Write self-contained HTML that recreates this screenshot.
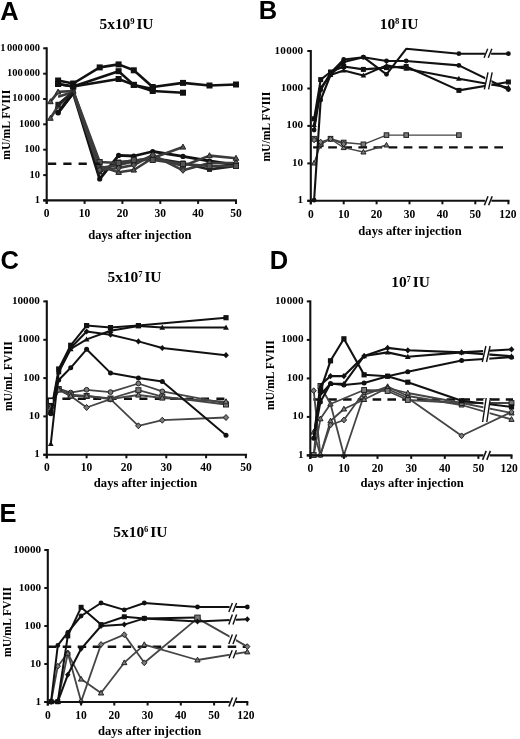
<!DOCTYPE html>
<html><head><meta charset="utf-8"><style>
html,body{margin:0;padding:0;background:#fff;width:520px;height:739px;overflow:hidden}
svg{display:block;will-change:transform}
</style></head><body>
<svg width="520" height="739" viewBox="0 0 520 739">
<rect width="520" height="739" fill="#fff"/>
<path d="M58.1,112.7 L73.2,93.0 L99.7,179.0 L118.6,155.4 L133.8,156.0 L152.7,151.5 L183.0,156.4 L209.5,161.0 L236.0,165.0" fill="none" stroke="#111" stroke-width="2.8" stroke-linejoin="round"/>
<circle cx="58.1" cy="112.7" r="2.6" fill="#111"/>
<circle cx="73.2" cy="93.0" r="2.6" fill="#111"/>
<circle cx="99.7" cy="179.0" r="2.6" fill="#111"/>
<circle cx="118.6" cy="155.4" r="2.6" fill="#111"/>
<circle cx="133.8" cy="156.0" r="2.6" fill="#111"/>
<circle cx="152.7" cy="151.5" r="2.6" fill="#111"/>
<circle cx="183.0" cy="156.4" r="2.6" fill="#111"/>
<circle cx="209.5" cy="161.0" r="2.6" fill="#111"/>
<circle cx="236.0" cy="165.0" r="2.6" fill="#111"/>
<path d="M58.1,104.4 L73.2,92.0 L99.7,172.0 L118.6,162.0 L133.8,161.0 L152.7,158.0 L183.0,163.0 L209.5,169.4 L236.0,166.0" fill="none" stroke="#222" stroke-width="2.6" stroke-linejoin="round"/>
<rect x="55.6" y="101.9" width="5.0" height="5.0" fill="#222"/>
<rect x="70.7" y="89.5" width="5.0" height="5.0" fill="#222"/>
<rect x="97.2" y="169.5" width="5.0" height="5.0" fill="#222"/>
<rect x="116.1" y="159.5" width="5.0" height="5.0" fill="#222"/>
<rect x="131.3" y="158.5" width="5.0" height="5.0" fill="#222"/>
<rect x="150.2" y="155.5" width="5.0" height="5.0" fill="#222"/>
<rect x="180.5" y="160.5" width="5.0" height="5.0" fill="#222"/>
<rect x="207.0" y="166.9" width="5.0" height="5.0" fill="#222"/>
<rect x="233.5" y="163.5" width="5.0" height="5.0" fill="#222"/>
<path d="M50.5,101.6 L58.1,91.9 L73.2,91.0 L99.7,166.0 L118.6,172.3 L133.8,170.0 L152.7,158.0 L183.0,147.0" fill="none" stroke="#3c3c3c" stroke-width="2.6" stroke-linejoin="round"/>
<polygon points="50.5,98.7 53.2,103.7 47.7,103.7" fill="#555" stroke="#222" stroke-width="1"/>
<polygon points="58.1,89.0 60.8,94.0 55.3,94.0" fill="#555" stroke="#222" stroke-width="1"/>
<polygon points="73.2,88.1 76.0,93.1 70.5,93.1" fill="#555" stroke="#222" stroke-width="1"/>
<polygon points="99.7,163.1 102.5,168.1 97.0,168.1" fill="#555" stroke="#222" stroke-width="1"/>
<polygon points="118.6,169.4 121.4,174.4 115.9,174.4" fill="#555" stroke="#222" stroke-width="1"/>
<polygon points="133.8,167.1 136.5,172.1 131.0,172.1" fill="#555" stroke="#222" stroke-width="1"/>
<polygon points="152.7,155.1 155.5,160.1 150.0,160.1" fill="#555" stroke="#222" stroke-width="1"/>
<polygon points="183.0,144.1 185.7,149.1 180.2,149.1" fill="#555" stroke="#222" stroke-width="1"/>
<path d="M50.5,118.2 L58.1,106.0 L73.2,92.0 L99.7,168.0 L118.6,165.0 L133.8,161.5 L152.7,157.0 L183.0,166.0 L209.5,155.6 L236.0,158.2" fill="none" stroke="#3c3c3c" stroke-width="2.6" stroke-linejoin="round"/>
<polygon points="50.5,115.3 53.2,120.3 47.7,120.3" fill="#555" stroke="#222" stroke-width="1"/>
<polygon points="58.1,103.1 60.8,108.1 55.3,108.1" fill="#555" stroke="#222" stroke-width="1"/>
<polygon points="73.2,89.1 76.0,94.1 70.5,94.1" fill="#555" stroke="#222" stroke-width="1"/>
<polygon points="99.7,165.1 102.5,170.1 97.0,170.1" fill="#555" stroke="#222" stroke-width="1"/>
<polygon points="118.6,162.1 121.4,167.1 115.9,167.1" fill="#555" stroke="#222" stroke-width="1"/>
<polygon points="133.8,158.6 136.5,163.6 131.0,163.6" fill="#555" stroke="#222" stroke-width="1"/>
<polygon points="152.7,154.1 155.5,159.1 150.0,159.1" fill="#555" stroke="#222" stroke-width="1"/>
<polygon points="183.0,163.1 185.7,168.1 180.2,168.1" fill="#555" stroke="#222" stroke-width="1"/>
<polygon points="209.5,152.7 212.2,157.7 206.7,157.7" fill="#555" stroke="#222" stroke-width="1"/>
<polygon points="236.0,155.3 238.8,160.3 233.2,160.3" fill="#555" stroke="#222" stroke-width="1"/>
<path d="M58.1,96.8 L73.2,92.0 L99.7,170.0 L118.6,168.0 L133.8,165.0 L152.7,155.0 L183.0,170.3 L209.5,163.0 L236.0,163.0" fill="none" stroke="#3c3c3c" stroke-width="2.6" stroke-linejoin="round"/>
<polygon points="99.7,167.0 102.5,170.0 99.7,173.0 97.0,170.0" fill="#555" stroke="#222" stroke-width="1"/>
<polygon points="118.6,165.0 121.4,168.0 118.6,171.0 115.9,168.0" fill="#555" stroke="#222" stroke-width="1"/>
<polygon points="133.8,162.0 136.5,165.0 133.8,168.0 131.0,165.0" fill="#555" stroke="#222" stroke-width="1"/>
<polygon points="152.7,152.0 155.5,155.0 152.7,158.0 150.0,155.0" fill="#555" stroke="#222" stroke-width="1"/>
<polygon points="183.0,167.3 185.7,170.3 183.0,173.3 180.2,170.3" fill="#555" stroke="#222" stroke-width="1"/>
<polygon points="209.5,160.0 212.2,163.0 209.5,166.0 206.7,163.0" fill="#555" stroke="#222" stroke-width="1"/>
<polygon points="236.0,160.0 238.8,163.0 236.0,166.0 233.2,163.0" fill="#555" stroke="#222" stroke-width="1"/>
<path d="M73.2,91.0 L99.7,162.0 L118.6,163.0 L133.8,160.0 L152.7,160.0 L183.0,164.0 L209.5,166.0 L236.0,166.0" fill="none" stroke="#3c3c3c" stroke-width="2.6" stroke-linejoin="round"/>
<rect x="97.2" y="159.5" width="5.0" height="5.0" fill="#555" stroke="#222" stroke-width="1"/>
<rect x="116.1" y="160.5" width="5.0" height="5.0" fill="#555" stroke="#222" stroke-width="1"/>
<rect x="131.3" y="157.5" width="5.0" height="5.0" fill="#555" stroke="#222" stroke-width="1"/>
<rect x="150.2" y="157.5" width="5.0" height="5.0" fill="#555" stroke="#222" stroke-width="1"/>
<rect x="180.5" y="161.5" width="5.0" height="5.0" fill="#555" stroke="#222" stroke-width="1"/>
<rect x="207.0" y="163.5" width="5.0" height="5.0" fill="#555" stroke="#222" stroke-width="1"/>
<rect x="233.5" y="163.5" width="5.0" height="5.0" fill="#555" stroke="#222" stroke-width="1"/>
<path d="M58.1,112.7 L73.2,93.0" fill="none" stroke="#111" stroke-width="3" stroke-linejoin="round"/>
<circle cx="58.1" cy="112.7" r="2.6" fill="#111"/>
<path d="M58.1,104.4 L73.2,92.0" fill="none" stroke="#222" stroke-width="2.6" stroke-linejoin="round"/>
<rect x="55.6" y="101.9" width="5.0" height="5.0" fill="#222"/>
<path d="M58.1,80.5 L73.2,83.5 L99.7,67.4 L118.6,64.4 L133.8,70.3 L152.7,87.0 L183.0,82.9 L209.5,85.5 L236.0,84.5" fill="none" stroke="#111" stroke-width="2.6" stroke-linejoin="round"/>
<rect x="55.1" y="77.5" width="6.0" height="6.0" fill="#111"/>
<rect x="70.2" y="80.5" width="6.0" height="6.0" fill="#111"/>
<rect x="96.7" y="64.4" width="6.0" height="6.0" fill="#111"/>
<rect x="115.6" y="61.4" width="6.0" height="6.0" fill="#111"/>
<rect x="130.8" y="67.3" width="6.0" height="6.0" fill="#111"/>
<rect x="149.7" y="84.0" width="6.0" height="6.0" fill="#111"/>
<rect x="180.0" y="79.9" width="6.0" height="6.0" fill="#111"/>
<rect x="206.5" y="82.5" width="6.0" height="6.0" fill="#111"/>
<rect x="233.0" y="81.5" width="6.0" height="6.0" fill="#111"/>
<path d="M58.1,84.0 L73.2,86.5 L118.6,71.2 L133.8,84.9 L152.7,91.0 L183.0,92.7" fill="none" stroke="#111" stroke-width="2.6" stroke-linejoin="round"/>
<rect x="55.1" y="81.0" width="6.0" height="6.0" fill="#111"/>
<rect x="70.2" y="83.5" width="6.0" height="6.0" fill="#111"/>
<rect x="115.6" y="68.2" width="6.0" height="6.0" fill="#111"/>
<rect x="130.8" y="81.9" width="6.0" height="6.0" fill="#111"/>
<rect x="149.7" y="88.0" width="6.0" height="6.0" fill="#111"/>
<rect x="180.0" y="89.7" width="6.0" height="6.0" fill="#111"/>
<path d="M58.1,84.0 L73.2,86.5 L118.6,79.0 L133.8,84.9 L152.7,89.0" fill="none" stroke="#111" stroke-width="2.6" stroke-linejoin="round"/>
<rect x="55.1" y="81.0" width="6.0" height="6.0" fill="#111"/>
<rect x="70.2" y="83.5" width="6.0" height="6.0" fill="#111"/>
<rect x="115.6" y="76.0" width="6.0" height="6.0" fill="#111"/>
<rect x="130.8" y="81.9" width="6.0" height="6.0" fill="#111"/>
<rect x="149.7" y="86.0" width="6.0" height="6.0" fill="#111"/>
<line x1="48.0" y1="163.8" x2="100.0" y2="163.8" stroke="#111" stroke-width="2.4" stroke-dasharray="8.2 7.1"/>
<line x1="313.1" y1="147.4" x2="503.0" y2="147.4" stroke="#111" stroke-width="2.4" stroke-dasharray="8.7 6.4"/>
<path d="M314.1,138.7 L320.7,144.3 L330.5,138.7 L343.7,142.5 L363.4,144.3 L386.5,135.1 L406.2,135.1 L458.9,135.1" fill="none" stroke="#454545" stroke-width="1.4" stroke-linejoin="round"/>
<rect x="311.8" y="136.4" width="4.6" height="4.6" fill="#7a7a7a" stroke="#222" stroke-width="1"/>
<rect x="318.4" y="142.0" width="4.6" height="4.6" fill="#7a7a7a" stroke="#222" stroke-width="1"/>
<rect x="328.2" y="136.4" width="4.6" height="4.6" fill="#7a7a7a" stroke="#222" stroke-width="1"/>
<rect x="341.4" y="140.2" width="4.6" height="4.6" fill="#7a7a7a" stroke="#222" stroke-width="1"/>
<rect x="361.1" y="142.0" width="4.6" height="4.6" fill="#7a7a7a" stroke="#222" stroke-width="1"/>
<rect x="384.2" y="132.8" width="4.6" height="4.6" fill="#7a7a7a" stroke="#222" stroke-width="1"/>
<rect x="403.9" y="132.8" width="4.6" height="4.6" fill="#7a7a7a" stroke="#222" stroke-width="1"/>
<rect x="456.6" y="132.8" width="4.6" height="4.6" fill="#7a7a7a" stroke="#222" stroke-width="1"/>
<path d="M314.1,163.0 L320.7,144.0 L330.5,139.0 L343.7,147.6 L363.4,152.0 L386.5,145.0" fill="none" stroke="#454545" stroke-width="1.4" stroke-linejoin="round"/>
<polygon points="314.1,160.4 316.6,165.0 311.6,165.0" fill="#7a7a7a" stroke="#222" stroke-width="1"/>
<polygon points="320.7,141.4 323.2,146.0 318.1,146.0" fill="#7a7a7a" stroke="#222" stroke-width="1"/>
<polygon points="330.5,136.4 333.1,141.0 328.0,141.0" fill="#7a7a7a" stroke="#222" stroke-width="1"/>
<polygon points="343.7,145.0 346.2,149.6 341.2,149.6" fill="#7a7a7a" stroke="#222" stroke-width="1"/>
<polygon points="363.4,149.4 366.0,154.0 360.9,154.0" fill="#7a7a7a" stroke="#222" stroke-width="1"/>
<polygon points="386.5,142.4 389.0,147.0 383.9,147.0" fill="#7a7a7a" stroke="#222" stroke-width="1"/>
<path d="M314.1,140.0 L320.7,142.0 L330.5,139.0 L343.7,144.0" fill="none" stroke="#454545" stroke-width="1.4" stroke-linejoin="round"/>
<polygon points="314.1,137.2 316.6,140.0 314.1,142.8 311.6,140.0" fill="#7a7a7a" stroke="#222" stroke-width="1"/>
<polygon points="320.7,139.2 323.2,142.0 320.7,144.8 318.1,142.0" fill="#7a7a7a" stroke="#222" stroke-width="1"/>
<polygon points="330.5,136.2 333.1,139.0 330.5,141.8 328.0,139.0" fill="#7a7a7a" stroke="#222" stroke-width="1"/>
<polygon points="343.7,141.2 346.2,144.0 343.7,146.8 341.2,144.0" fill="#7a7a7a" stroke="#222" stroke-width="1"/>
<path d="M314.1,200.2 L320.7,100.0 L330.5,75.0 L343.7,62.0 L363.4,57.2 L386.5,74.3 L406.2,48.8 L458.9,53.7 L508.4,53.7" fill="none" stroke="#111" stroke-width="2.1" stroke-linejoin="round"/>
<circle cx="314.1" cy="200.2" r="2.4" fill="#111"/>
<circle cx="320.7" cy="100.0" r="2.4" fill="#111"/>
<circle cx="330.5" cy="75.0" r="2.4" fill="#111"/>
<circle cx="343.7" cy="62.0" r="2.4" fill="#111"/>
<circle cx="363.4" cy="57.2" r="2.4" fill="#111"/>
<circle cx="386.5" cy="74.3" r="2.4" fill="#111"/>
<circle cx="458.9" cy="53.7" r="2.4" fill="#111"/>
<circle cx="508.4" cy="53.7" r="2.4" fill="#111"/>
<path d="M314.1,130.0 L320.7,90.0 L330.5,73.0 L343.7,59.5 L363.4,57.2 L386.5,61.0 L406.2,61.0 L458.9,65.4 L508.4,89.5" fill="none" stroke="#111" stroke-width="2.1" stroke-linejoin="round"/>
<circle cx="314.1" cy="130.0" r="2.4" fill="#111"/>
<circle cx="320.7" cy="90.0" r="2.4" fill="#111"/>
<circle cx="330.5" cy="73.0" r="2.4" fill="#111"/>
<circle cx="343.7" cy="59.5" r="2.4" fill="#111"/>
<circle cx="363.4" cy="57.2" r="2.4" fill="#111"/>
<circle cx="386.5" cy="61.0" r="2.4" fill="#111"/>
<circle cx="406.2" cy="61.0" r="2.4" fill="#111"/>
<circle cx="458.9" cy="65.4" r="2.4" fill="#111"/>
<circle cx="508.4" cy="89.5" r="2.4" fill="#111"/>
<path d="M314.1,125.0 L320.7,88.0 L330.5,75.0 L343.7,70.5 L363.4,75.4 L386.5,65.4 L406.2,68.7 L458.9,78.7 L508.4,87.5" fill="none" stroke="#111" stroke-width="2.1" stroke-linejoin="round"/>
<polygon points="314.1,122.1 316.8,127.1 311.3,127.1" fill="#111"/>
<polygon points="320.7,85.1 323.4,90.1 317.9,90.1" fill="#111"/>
<polygon points="330.5,72.1 333.3,77.1 327.8,77.1" fill="#111"/>
<polygon points="343.7,67.6 346.4,72.6 340.9,72.6" fill="#111"/>
<polygon points="363.4,72.5 366.2,77.5 360.7,77.5" fill="#111"/>
<polygon points="386.5,62.5 389.2,67.5 383.7,67.5" fill="#111"/>
<polygon points="406.2,65.8 409.0,70.8 403.5,70.8" fill="#111"/>
<polygon points="458.9,75.8 461.6,80.8 456.1,80.8" fill="#111"/>
<polygon points="508.4,84.6 511.1,89.6 505.6,89.6" fill="#111"/>
<path d="M314.1,118.8 L320.7,79.6 L330.5,72.0 L343.7,66.5 L363.4,69.4 L386.5,67.6 L406.2,66.5 L458.9,90.4 L508.4,82.0" fill="none" stroke="#111" stroke-width="2.1" stroke-linejoin="round"/>
<rect x="311.6" y="116.3" width="5.0" height="5.0" fill="#111"/>
<rect x="318.2" y="77.1" width="5.0" height="5.0" fill="#111"/>
<rect x="328.0" y="69.5" width="5.0" height="5.0" fill="#111"/>
<rect x="341.2" y="64.0" width="5.0" height="5.0" fill="#111"/>
<rect x="360.9" y="66.9" width="5.0" height="5.0" fill="#111"/>
<rect x="384.0" y="65.1" width="5.0" height="5.0" fill="#111"/>
<rect x="403.7" y="64.0" width="5.0" height="5.0" fill="#111"/>
<rect x="456.4" y="87.9" width="5.0" height="5.0" fill="#111"/>
<rect x="505.9" y="79.5" width="5.0" height="5.0" fill="#111"/>
<rect x="484.9" y="49.5" width="6.2" height="7.4" fill="#fff"/>
<line x1="484.1" y1="57.7" x2="487.7" y2="48.7" stroke="#111" stroke-width="1.4"/>
<line x1="488.3" y1="57.7" x2="491.9" y2="48.7" stroke="#111" stroke-width="1.4"/>
<rect x="485.2" y="73.1" width="6.2" height="15.4" fill="#fff"/>
<line x1="484.4" y1="89.3" x2="488.0" y2="72.3" stroke="#111" stroke-width="1.4"/>
<line x1="488.6" y1="89.3" x2="492.2" y2="72.3" stroke="#111" stroke-width="1.4"/>
<line x1="47.0" y1="398.7" x2="226.0" y2="398.7" stroke="#111" stroke-width="2.4" stroke-dasharray="8 7.4"/>
<path d="M50.8,404.5 L58.7,388.7 L70.7,392.6 L86.6,389.8 L110.5,392.1 L138.4,383.5 L162.3,391.4 L226.0,403.3" fill="none" stroke="#454545" stroke-width="1.8" stroke-linejoin="round"/>
<circle cx="50.8" cy="404.5" r="2.4" fill="#7a7a7a" stroke="#222" stroke-width="1"/>
<circle cx="58.7" cy="388.7" r="2.4" fill="#7a7a7a" stroke="#222" stroke-width="1"/>
<circle cx="70.7" cy="392.6" r="2.4" fill="#7a7a7a" stroke="#222" stroke-width="1"/>
<circle cx="86.6" cy="389.8" r="2.4" fill="#7a7a7a" stroke="#222" stroke-width="1"/>
<circle cx="110.5" cy="392.1" r="2.4" fill="#7a7a7a" stroke="#222" stroke-width="1"/>
<circle cx="138.4" cy="383.5" r="2.4" fill="#7a7a7a" stroke="#222" stroke-width="1"/>
<circle cx="162.3" cy="391.4" r="2.4" fill="#7a7a7a" stroke="#222" stroke-width="1"/>
<circle cx="226.0" cy="403.3" r="2.4" fill="#7a7a7a" stroke="#222" stroke-width="1"/>
<path d="M50.8,405.0 L58.7,389.0 L70.7,394.6 L86.6,396.0 L110.5,398.5 L138.4,390.2 L162.3,396.6 L226.0,404.5" fill="none" stroke="#454545" stroke-width="1.8" stroke-linejoin="round"/>
<rect x="48.3" y="402.5" width="5.0" height="5.0" fill="#7a7a7a" stroke="#222" stroke-width="1"/>
<rect x="56.2" y="386.5" width="5.0" height="5.0" fill="#7a7a7a" stroke="#222" stroke-width="1"/>
<rect x="68.2" y="392.1" width="5.0" height="5.0" fill="#7a7a7a" stroke="#222" stroke-width="1"/>
<rect x="84.1" y="393.5" width="5.0" height="5.0" fill="#7a7a7a" stroke="#222" stroke-width="1"/>
<rect x="108.0" y="396.0" width="5.0" height="5.0" fill="#7a7a7a" stroke="#222" stroke-width="1"/>
<rect x="135.9" y="387.7" width="5.0" height="5.0" fill="#7a7a7a" stroke="#222" stroke-width="1"/>
<rect x="159.8" y="394.1" width="5.0" height="5.0" fill="#7a7a7a" stroke="#222" stroke-width="1"/>
<rect x="223.5" y="402.0" width="5.0" height="5.0" fill="#7a7a7a" stroke="#222" stroke-width="1"/>
<path d="M50.8,406.0 L58.7,389.5 L70.7,396.0 L86.6,407.5 L110.5,399.2 L138.4,425.8 L162.3,420.2 L226.0,417.5" fill="none" stroke="#454545" stroke-width="1.8" stroke-linejoin="round"/>
<polygon points="50.8,403.0 53.5,406.0 50.8,409.0 48.0,406.0" fill="#7a7a7a" stroke="#222" stroke-width="1"/>
<polygon points="58.7,386.5 61.5,389.5 58.7,392.5 56.0,389.5" fill="#7a7a7a" stroke="#222" stroke-width="1"/>
<polygon points="70.7,393.0 73.4,396.0 70.7,399.0 67.9,396.0" fill="#7a7a7a" stroke="#222" stroke-width="1"/>
<polygon points="86.6,404.5 89.4,407.5 86.6,410.5 83.9,407.5" fill="#7a7a7a" stroke="#222" stroke-width="1"/>
<polygon points="110.5,396.2 113.3,399.2 110.5,402.2 107.8,399.2" fill="#7a7a7a" stroke="#222" stroke-width="1"/>
<polygon points="138.4,422.8 141.1,425.8 138.4,428.8 135.6,425.8" fill="#7a7a7a" stroke="#222" stroke-width="1"/>
<polygon points="162.3,417.2 165.0,420.2 162.3,423.2 159.5,420.2" fill="#7a7a7a" stroke="#222" stroke-width="1"/>
<polygon points="226.0,414.5 228.7,417.5 226.0,420.5 223.2,417.5" fill="#7a7a7a" stroke="#222" stroke-width="1"/>
<path d="M50.8,407.0 L58.7,390.0 L70.7,396.0 L86.6,396.0 L110.5,399.0 L138.4,395.0 L162.3,398.0 L226.0,401.7" fill="none" stroke="#454545" stroke-width="1.8" stroke-linejoin="round"/>
<polygon points="50.8,404.1 53.5,409.1 48.0,409.1" fill="#7a7a7a" stroke="#222" stroke-width="1"/>
<polygon points="58.7,387.1 61.5,392.1 56.0,392.1" fill="#7a7a7a" stroke="#222" stroke-width="1"/>
<polygon points="70.7,393.1 73.4,398.1 67.9,398.1" fill="#7a7a7a" stroke="#222" stroke-width="1"/>
<polygon points="86.6,393.1 89.4,398.1 83.9,398.1" fill="#7a7a7a" stroke="#222" stroke-width="1"/>
<polygon points="110.5,396.1 113.3,401.1 107.8,401.1" fill="#7a7a7a" stroke="#222" stroke-width="1"/>
<polygon points="138.4,392.1 141.1,397.1 135.6,397.1" fill="#7a7a7a" stroke="#222" stroke-width="1"/>
<polygon points="162.3,395.1 165.0,400.1 159.5,400.1" fill="#7a7a7a" stroke="#222" stroke-width="1"/>
<polygon points="226.0,398.8 228.7,403.8 223.2,403.8" fill="#7a7a7a" stroke="#222" stroke-width="1"/>
<path d="M50.8,412.3 L58.7,369.0 L70.7,345.3 L86.6,325.6 L110.5,327.6 L138.4,325.6 L226.0,317.7" fill="none" stroke="#111" stroke-width="2" stroke-linejoin="round"/>
<rect x="48.2" y="409.7" width="5.2" height="5.2" fill="#111"/>
<rect x="56.1" y="366.4" width="5.2" height="5.2" fill="#111"/>
<rect x="68.1" y="342.7" width="5.2" height="5.2" fill="#111"/>
<rect x="84.0" y="323.0" width="5.2" height="5.2" fill="#111"/>
<rect x="107.9" y="325.0" width="5.2" height="5.2" fill="#111"/>
<rect x="135.8" y="323.0" width="5.2" height="5.2" fill="#111"/>
<rect x="223.4" y="315.1" width="5.2" height="5.2" fill="#111"/>
<path d="M50.8,443.9 L58.7,372.0 L70.7,349.0 L86.6,339.4 L110.5,330.8 L138.4,326.0 L162.3,327.6 L226.0,327.6" fill="none" stroke="#111" stroke-width="2" stroke-linejoin="round"/>
<polygon points="50.8,440.9 53.6,446.1 47.9,446.1" fill="#111"/>
<polygon points="58.7,369.0 61.6,374.2 55.9,374.2" fill="#111"/>
<polygon points="70.7,346.0 73.6,351.2 67.8,351.2" fill="#111"/>
<polygon points="86.6,336.4 89.5,341.6 83.8,341.6" fill="#111"/>
<polygon points="110.5,327.8 113.4,333.0 107.7,333.0" fill="#111"/>
<polygon points="138.4,323.0 141.2,328.2 135.5,328.2" fill="#111"/>
<polygon points="162.3,324.6 165.1,329.8 159.4,329.8" fill="#111"/>
<polygon points="226.0,324.6 228.9,329.8 223.1,329.8" fill="#111"/>
<path d="M50.8,413.0 L58.7,372.0 L70.7,348.0 L86.6,331.5 L110.5,334.7 L138.4,341.4 L162.3,348.0 L226.0,355.2" fill="none" stroke="#111" stroke-width="2" stroke-linejoin="round"/>
<polygon points="50.8,409.9 53.6,413.0 50.8,416.1 47.9,413.0" fill="#111"/>
<polygon points="58.7,368.9 61.6,372.0 58.7,375.1 55.9,372.0" fill="#111"/>
<polygon points="70.7,344.9 73.6,348.0 70.7,351.1 67.8,348.0" fill="#111"/>
<polygon points="86.6,328.4 89.5,331.5 86.6,334.6 83.8,331.5" fill="#111"/>
<polygon points="110.5,331.6 113.4,334.7 110.5,337.8 107.7,334.7" fill="#111"/>
<polygon points="138.4,338.3 141.2,341.4 138.4,344.5 135.5,341.4" fill="#111"/>
<polygon points="162.3,344.9 165.1,348.0 162.3,351.1 159.4,348.0" fill="#111"/>
<polygon points="226.0,352.1 228.9,355.2 226.0,358.3 223.1,355.2" fill="#111"/>
<path d="M50.8,413.8 L58.7,380.0 L70.7,367.8 L86.6,349.3 L110.5,372.9 L138.4,378.1 L162.3,381.6 L226.0,435.2" fill="none" stroke="#111" stroke-width="2" stroke-linejoin="round"/>
<circle cx="50.8" cy="413.8" r="2.5" fill="#111"/>
<circle cx="58.7" cy="380.0" r="2.5" fill="#111"/>
<circle cx="70.7" cy="367.8" r="2.5" fill="#111"/>
<circle cx="86.6" cy="349.3" r="2.5" fill="#111"/>
<circle cx="110.5" cy="372.9" r="2.5" fill="#111"/>
<circle cx="138.4" cy="378.1" r="2.5" fill="#111"/>
<circle cx="162.3" cy="381.6" r="2.5" fill="#111"/>
<circle cx="226.0" cy="435.2" r="2.5" fill="#111"/>
<rect x="48.3" y="398.5" width="5.0" height="5.0" fill="#fff" stroke="#111" stroke-width="1.2"/>
<line x1="313.4" y1="399.5" x2="513.0" y2="399.5" stroke="#111" stroke-width="2.4" stroke-dasharray="8.6 6.2"/>
<path d="M313.7,455.0 L320.4,418.8 L330.5,404.0 L343.9,455.0 L364.1,395.0 L387.6,386.6 L407.8,396.0 L461.6,405.0 L511.5,419.4" fill="none" stroke="#454545" stroke-width="1.8" stroke-linejoin="round"/>
<polygon points="313.7,452.2 316.3,457.0 311.0,457.0" fill="#7a7a7a" stroke="#222" stroke-width="1"/>
<polygon points="320.4,416.0 323.0,420.8 317.7,420.8" fill="#7a7a7a" stroke="#222" stroke-width="1"/>
<polygon points="330.5,401.2 333.1,406.0 327.8,406.0" fill="#7a7a7a" stroke="#222" stroke-width="1"/>
<polygon points="343.9,452.2 346.6,457.0 341.3,457.0" fill="#7a7a7a" stroke="#222" stroke-width="1"/>
<polygon points="364.1,392.2 366.7,397.0 361.5,397.0" fill="#7a7a7a" stroke="#222" stroke-width="1"/>
<polygon points="387.6,383.8 390.3,388.6 385.0,388.6" fill="#7a7a7a" stroke="#222" stroke-width="1"/>
<polygon points="407.8,393.2 410.4,398.0 405.2,398.0" fill="#7a7a7a" stroke="#222" stroke-width="1"/>
<polygon points="461.6,402.2 464.2,407.0 459.0,407.0" fill="#7a7a7a" stroke="#222" stroke-width="1"/>
<polygon points="511.5,416.6 514.1,421.4 508.9,421.4" fill="#7a7a7a" stroke="#222" stroke-width="1"/>
<path d="M313.7,432.0 L320.4,455.0 L330.5,421.0 L343.9,409.0 L364.1,399.5 L387.6,388.0 L407.8,393.0 L461.6,403.0 L511.5,413.0" fill="none" stroke="#454545" stroke-width="1.8" stroke-linejoin="round"/>
<polygon points="313.7,429.2 316.3,434.0 311.0,434.0" fill="#7a7a7a" stroke="#222" stroke-width="1"/>
<polygon points="320.4,452.2 323.0,457.0 317.7,457.0" fill="#7a7a7a" stroke="#222" stroke-width="1"/>
<polygon points="330.5,418.2 333.1,423.0 327.8,423.0" fill="#7a7a7a" stroke="#222" stroke-width="1"/>
<polygon points="343.9,406.2 346.6,411.0 341.3,411.0" fill="#7a7a7a" stroke="#222" stroke-width="1"/>
<polygon points="364.1,396.7 366.7,401.5 361.5,401.5" fill="#7a7a7a" stroke="#222" stroke-width="1"/>
<polygon points="387.6,385.2 390.3,390.0 385.0,390.0" fill="#7a7a7a" stroke="#222" stroke-width="1"/>
<polygon points="407.8,390.2 410.4,395.0 405.2,395.0" fill="#7a7a7a" stroke="#222" stroke-width="1"/>
<polygon points="461.6,400.2 464.2,405.0 459.0,405.0" fill="#7a7a7a" stroke="#222" stroke-width="1"/>
<polygon points="511.5,410.2 514.1,415.0 508.9,415.0" fill="#7a7a7a" stroke="#222" stroke-width="1"/>
<path d="M313.7,390.7 L320.4,455.0 L330.5,425.0 L343.9,420.0 L364.1,392.0 L387.6,389.0 L407.8,398.0 L461.6,435.8 L511.5,412.0" fill="none" stroke="#454545" stroke-width="1.8" stroke-linejoin="round"/>
<polygon points="313.7,387.8 316.3,390.7 313.7,393.6 311.0,390.7" fill="#7a7a7a" stroke="#222" stroke-width="1"/>
<polygon points="320.4,452.1 323.0,455.0 320.4,457.9 317.7,455.0" fill="#7a7a7a" stroke="#222" stroke-width="1"/>
<polygon points="330.5,422.1 333.1,425.0 330.5,427.9 327.8,425.0" fill="#7a7a7a" stroke="#222" stroke-width="1"/>
<polygon points="343.9,417.1 346.6,420.0 343.9,422.9 341.3,420.0" fill="#7a7a7a" stroke="#222" stroke-width="1"/>
<polygon points="364.1,389.1 366.7,392.0 364.1,394.9 361.5,392.0" fill="#7a7a7a" stroke="#222" stroke-width="1"/>
<polygon points="387.6,386.1 390.3,389.0 387.6,391.9 385.0,389.0" fill="#7a7a7a" stroke="#222" stroke-width="1"/>
<polygon points="407.8,395.1 410.4,398.0 407.8,400.9 405.2,398.0" fill="#7a7a7a" stroke="#222" stroke-width="1"/>
<polygon points="461.6,432.9 464.2,435.8 461.6,438.7 459.0,435.8" fill="#7a7a7a" stroke="#222" stroke-width="1"/>
<polygon points="511.5,409.1 514.1,412.0 511.5,414.9 508.9,412.0" fill="#7a7a7a" stroke="#222" stroke-width="1"/>
<path d="M313.7,455.0 L320.4,385.9 L330.5,404.0 L364.1,390.0 L387.6,391.0 L407.8,400.0 L461.6,403.0 L511.5,403.0" fill="none" stroke="#454545" stroke-width="1.8" stroke-linejoin="round"/>
<rect x="311.3" y="452.6" width="4.8" height="4.8" fill="#7a7a7a" stroke="#222" stroke-width="1"/>
<rect x="318.0" y="383.5" width="4.8" height="4.8" fill="#7a7a7a" stroke="#222" stroke-width="1"/>
<rect x="361.7" y="387.6" width="4.8" height="4.8" fill="#7a7a7a" stroke="#222" stroke-width="1"/>
<rect x="385.2" y="388.6" width="4.8" height="4.8" fill="#7a7a7a" stroke="#222" stroke-width="1"/>
<rect x="405.4" y="397.6" width="4.8" height="4.8" fill="#7a7a7a" stroke="#222" stroke-width="1"/>
<rect x="459.2" y="400.6" width="4.8" height="4.8" fill="#7a7a7a" stroke="#222" stroke-width="1"/>
<rect x="509.1" y="400.6" width="4.8" height="4.8" fill="#7a7a7a" stroke="#222" stroke-width="1"/>
<path d="M313.7,438.2 L320.4,390.7 L330.5,360.8 L343.9,338.8 L364.1,374.8 L387.6,376.2 L407.8,382.2 L461.6,400.8 L511.5,406.9" fill="none" stroke="#111" stroke-width="2.1" stroke-linejoin="round"/>
<rect x="317.8" y="388.1" width="5.2" height="5.2" fill="#111"/>
<rect x="327.9" y="358.2" width="5.2" height="5.2" fill="#111"/>
<rect x="341.3" y="336.2" width="5.2" height="5.2" fill="#111"/>
<rect x="361.5" y="372.2" width="5.2" height="5.2" fill="#111"/>
<rect x="385.0" y="373.6" width="5.2" height="5.2" fill="#111"/>
<rect x="405.2" y="379.6" width="5.2" height="5.2" fill="#111"/>
<rect x="459.0" y="398.2" width="5.2" height="5.2" fill="#111"/>
<rect x="508.9" y="404.3" width="5.2" height="5.2" fill="#111"/>
<path d="M313.7,438.2 L320.4,385.0 L330.5,376.1 L343.9,376.1 L364.1,356.0 L387.6,347.9 L407.8,350.3 L461.6,352.4 L511.5,349.4" fill="none" stroke="#111" stroke-width="2.1" stroke-linejoin="round"/>
<polygon points="330.5,373.0 333.3,376.1 330.5,379.2 327.6,376.1" fill="#111"/>
<polygon points="343.9,373.0 346.8,376.1 343.9,379.2 341.1,376.1" fill="#111"/>
<polygon points="364.1,352.9 367.0,356.0 364.1,359.1 361.2,356.0" fill="#111"/>
<polygon points="387.6,344.8 390.5,347.9 387.6,351.0 384.8,347.9" fill="#111"/>
<polygon points="407.8,347.2 410.7,350.3 407.8,353.4 404.9,350.3" fill="#111"/>
<polygon points="461.6,349.3 464.5,352.4 461.6,355.5 458.7,352.4" fill="#111"/>
<polygon points="511.5,346.3 514.4,349.4 511.5,352.5 508.6,349.4" fill="#111"/>
<path d="M313.7,438.2 L320.4,395.0 L330.5,383.8 L343.9,383.8 L364.1,356.0 L387.6,352.4 L407.8,356.8 L461.6,352.4 L511.5,356.2" fill="none" stroke="#111" stroke-width="2.1" stroke-linejoin="round"/>
<polygon points="330.5,380.8 333.3,386.0 327.6,386.0" fill="#111"/>
<polygon points="343.9,380.8 346.8,386.0 341.1,386.0" fill="#111"/>
<polygon points="364.1,353.0 367.0,358.2 361.2,358.2" fill="#111"/>
<polygon points="387.6,349.4 390.5,354.6 384.8,354.6" fill="#111"/>
<polygon points="407.8,353.8 410.7,359.0 404.9,359.0" fill="#111"/>
<polygon points="461.6,349.4 464.5,354.6 458.7,354.6" fill="#111"/>
<polygon points="511.5,353.2 514.4,358.4 508.6,358.4" fill="#111"/>
<path d="M313.7,438.2 L320.4,402.1 L330.5,383.6 L343.9,384.9 L364.1,383.0 L387.6,376.2 L407.8,371.7 L461.6,360.4 L511.5,357.2" fill="none" stroke="#111" stroke-width="2" stroke-linejoin="round"/>
<circle cx="313.7" cy="438.2" r="2.5" fill="#111"/>
<circle cx="320.4" cy="402.1" r="2.5" fill="#111"/>
<circle cx="330.5" cy="383.6" r="2.5" fill="#111"/>
<circle cx="343.9" cy="384.9" r="2.5" fill="#111"/>
<circle cx="364.1" cy="383.0" r="2.5" fill="#111"/>
<circle cx="387.6" cy="376.2" r="2.5" fill="#111"/>
<circle cx="407.8" cy="371.7" r="2.5" fill="#111"/>
<circle cx="461.6" cy="360.4" r="2.5" fill="#111"/>
<circle cx="511.5" cy="357.2" r="2.5" fill="#111"/>
<rect x="483.1" y="346.8" width="6.2" height="14.4" fill="#fff"/>
<line x1="482.3" y1="362.0" x2="485.9" y2="346.0" stroke="#111" stroke-width="1.4"/>
<line x1="486.5" y1="362.0" x2="490.1" y2="346.0" stroke="#111" stroke-width="1.4"/>
<rect x="483.4" y="398.8" width="6.2" height="22.4" fill="#fff"/>
<line x1="482.6" y1="422.0" x2="486.2" y2="398.0" stroke="#111" stroke-width="1.4"/>
<line x1="486.8" y1="422.0" x2="490.4" y2="398.0" stroke="#111" stroke-width="1.4"/>
<line x1="47.7" y1="646.8" x2="248.5" y2="646.8" stroke="#111" stroke-width="2.4" stroke-dasharray="8.5 6.5"/>
<path d="M51.1,701.6 L57.8,666.2 L67.8,653.0 L81.1,701.6 L101.0,644.5 L124.3,634.7 L144.3,662.8 L197.5,618.4 L247.3,646.6" fill="none" stroke="#454545" stroke-width="1.8" stroke-linejoin="round"/>
<polygon points="51.1,698.7 53.8,701.6 51.1,704.5 48.5,701.6" fill="#7a7a7a" stroke="#222" stroke-width="1"/>
<polygon points="57.8,663.3 60.4,666.2 57.8,669.1 55.1,666.2" fill="#7a7a7a" stroke="#222" stroke-width="1"/>
<polygon points="67.8,650.1 70.4,653.0 67.8,655.9 65.1,653.0" fill="#7a7a7a" stroke="#222" stroke-width="1"/>
<polygon points="81.1,698.7 83.7,701.6 81.1,704.5 78.4,701.6" fill="#7a7a7a" stroke="#222" stroke-width="1"/>
<polygon points="101.0,641.6 103.7,644.5 101.0,647.4 98.4,644.5" fill="#7a7a7a" stroke="#222" stroke-width="1"/>
<polygon points="124.3,631.8 126.9,634.7 124.3,637.6 121.7,634.7" fill="#7a7a7a" stroke="#222" stroke-width="1"/>
<polygon points="144.3,659.9 146.9,662.8 144.3,665.7 141.6,662.8" fill="#7a7a7a" stroke="#222" stroke-width="1"/>
<polygon points="197.5,615.5 200.1,618.4 197.5,621.3 194.8,618.4" fill="#7a7a7a" stroke="#222" stroke-width="1"/>
<polygon points="247.3,643.7 249.9,646.6 247.3,649.5 244.7,646.6" fill="#7a7a7a" stroke="#222" stroke-width="1"/>
<path d="M51.1,701.6 L57.8,701.6 L67.8,653.2 L81.1,679.1 L101.0,693.0 L124.3,662.7 L144.3,644.6 L197.5,660.0 L247.3,651.9" fill="none" stroke="#454545" stroke-width="1.8" stroke-linejoin="round"/>
<polygon points="51.1,698.8 53.8,703.6 48.5,703.6" fill="#7a7a7a" stroke="#222" stroke-width="1"/>
<polygon points="57.8,698.8 60.4,703.6 55.1,703.6" fill="#7a7a7a" stroke="#222" stroke-width="1"/>
<polygon points="67.8,650.4 70.4,655.2 65.1,655.2" fill="#7a7a7a" stroke="#222" stroke-width="1"/>
<polygon points="81.1,676.3 83.7,681.1 78.4,681.1" fill="#7a7a7a" stroke="#222" stroke-width="1"/>
<polygon points="101.0,690.2 103.7,695.0 98.4,695.0" fill="#7a7a7a" stroke="#222" stroke-width="1"/>
<polygon points="124.3,659.9 126.9,664.7 121.7,664.7" fill="#7a7a7a" stroke="#222" stroke-width="1"/>
<polygon points="144.3,641.8 146.9,646.6 141.6,646.6" fill="#7a7a7a" stroke="#222" stroke-width="1"/>
<polygon points="197.5,657.2 200.1,662.0 194.8,662.0" fill="#7a7a7a" stroke="#222" stroke-width="1"/>
<polygon points="247.3,649.1 249.9,653.9 244.7,653.9" fill="#7a7a7a" stroke="#222" stroke-width="1"/>
<path d="M51.1,701.6 L57.8,645.4 L67.8,632.4 L81.1,616.0 L101.0,603.0 L124.3,609.9 L144.3,603.0 L197.5,607.0 L247.3,607.0" fill="none" stroke="#111" stroke-width="2" stroke-linejoin="round"/>
<circle cx="51.1" cy="701.6" r="2.4" fill="#111"/>
<circle cx="57.8" cy="645.4" r="2.4" fill="#111"/>
<circle cx="67.8" cy="632.4" r="2.4" fill="#111"/>
<circle cx="81.1" cy="616.0" r="2.4" fill="#111"/>
<circle cx="101.0" cy="603.0" r="2.4" fill="#111"/>
<circle cx="124.3" cy="609.9" r="2.4" fill="#111"/>
<circle cx="144.3" cy="603.0" r="2.4" fill="#111"/>
<circle cx="197.5" cy="607.0" r="2.4" fill="#111"/>
<circle cx="247.3" cy="607.0" r="2.4" fill="#111"/>
<path d="M51.1,701.6 L57.8,701.6 L67.8,635.9 L81.1,607.3 L101.0,624.6 L124.3,616.8 L144.3,618.4 L197.5,617.6" fill="none" stroke="#111" stroke-width="2" stroke-linejoin="round"/>
<rect x="48.6" y="699.1" width="5.0" height="5.0" fill="#111"/>
<rect x="55.3" y="699.1" width="5.0" height="5.0" fill="#111"/>
<rect x="65.3" y="633.4" width="5.0" height="5.0" fill="#111"/>
<rect x="78.6" y="604.8" width="5.0" height="5.0" fill="#111"/>
<rect x="98.5" y="622.1" width="5.0" height="5.0" fill="#111"/>
<rect x="121.8" y="614.3" width="5.0" height="5.0" fill="#111"/>
<rect x="141.8" y="615.9" width="5.0" height="5.0" fill="#111"/>
<rect x="194.8" y="615.1" width="5.4" height="5.4" fill="#7a7a7a" stroke="#222" stroke-width="1"/>
<path d="M57.8,701.6 L67.8,674.8 L81.1,648.8 L101.0,626.0 L124.3,624.6 L144.3,618.4 L197.5,621.6 L247.3,619.2" fill="none" stroke="#111" stroke-width="2" stroke-linejoin="round"/>
<polygon points="57.8,698.6 60.5,701.6 57.8,704.6 55.0,701.6" fill="#111"/>
<polygon points="67.8,671.8 70.5,674.8 67.8,677.8 65.0,674.8" fill="#111"/>
<polygon points="81.1,645.8 83.8,648.8 81.1,651.8 78.3,648.8" fill="#111"/>
<polygon points="101.0,623.0 103.8,626.0 101.0,629.0 98.3,626.0" fill="#111"/>
<polygon points="124.3,621.6 127.0,624.6 124.3,627.6 121.5,624.6" fill="#111"/>
<polygon points="144.3,615.4 147.0,618.4 144.3,621.4 141.5,618.4" fill="#111"/>
<polygon points="197.5,618.6 200.2,621.6 197.5,624.6 194.7,621.6" fill="#111"/>
<polygon points="247.3,616.2 250.1,619.2 247.3,622.2 244.6,619.2" fill="#111"/>
<rect x="229.6" y="603.8" width="6.2" height="7.4" fill="#fff"/>
<line x1="228.8" y1="612.0" x2="232.4" y2="603.0" stroke="#111" stroke-width="1.4"/>
<line x1="233.0" y1="612.0" x2="236.6" y2="603.0" stroke="#111" stroke-width="1.4"/>
<rect x="229.6" y="615.4" width="6.2" height="8.4" fill="#fff"/>
<line x1="228.8" y1="624.6" x2="232.4" y2="614.6" stroke="#111" stroke-width="1.4"/>
<line x1="233.0" y1="624.6" x2="236.6" y2="614.6" stroke="#111" stroke-width="1.4"/>
<rect x="229.6" y="635.2" width="6.2" height="7.9" fill="#fff"/>
<line x1="228.8" y1="644.0" x2="232.4" y2="634.5" stroke="#111" stroke-width="1.4"/>
<line x1="233.0" y1="644.0" x2="236.6" y2="634.5" stroke="#111" stroke-width="1.4"/>
<rect x="229.6" y="651.0" width="6.2" height="6.4" fill="#fff"/>
<line x1="229.0" y1="658.2" x2="232.2" y2="650.2" stroke="#111" stroke-width="1.4"/>
<line x1="233.2" y1="658.2" x2="236.4" y2="650.2" stroke="#111" stroke-width="1.4"/>
<line x1="46.7" y1="47.3" x2="46.7" y2="203.9" stroke="#111" stroke-width="2.1"/>
<line x1="43.2" y1="200.4" x2="46.7" y2="200.4" stroke="#111" stroke-width="2"/>
<text x="39.9" y="202.8" font-family='"Liberation Serif", serif' font-size="10.5" font-weight="bold" text-anchor="end" >1</text>
<line x1="43.2" y1="175.1" x2="46.7" y2="175.1" stroke="#111" stroke-width="2"/>
<text x="39.9" y="177.5" font-family='"Liberation Serif", serif' font-size="10.5" font-weight="bold" text-anchor="end" >10</text>
<line x1="43.2" y1="149.7" x2="46.7" y2="149.7" stroke="#111" stroke-width="2"/>
<text x="39.9" y="152.1" font-family='"Liberation Serif", serif' font-size="10.5" font-weight="bold" text-anchor="end" >100</text>
<line x1="43.2" y1="124.3" x2="46.7" y2="124.3" stroke="#111" stroke-width="2"/>
<text x="39.9" y="126.8" font-family='"Liberation Serif", serif' font-size="10.5" font-weight="bold" text-anchor="end" >1000</text>
<line x1="43.2" y1="99.0" x2="46.7" y2="99.0" stroke="#111" stroke-width="2"/>
<text x="39.9" y="101.4" font-family='"Liberation Serif", serif' font-size="10.5" font-weight="bold" text-anchor="end" >10<tspan dx="1.5">000</tspan></text>
<line x1="43.2" y1="73.7" x2="46.7" y2="73.7" stroke="#111" stroke-width="2"/>
<text x="39.9" y="76.1" font-family='"Liberation Serif", serif' font-size="10.5" font-weight="bold" text-anchor="end" >100<tspan dx="1.5">000</tspan></text>
<line x1="43.2" y1="48.3" x2="46.7" y2="48.3" stroke="#111" stroke-width="2"/>
<text x="39.9" y="50.7" font-family='"Liberation Serif", serif' font-size="10.5" font-weight="bold" text-anchor="end" >1<tspan dx="1.5">000</tspan><tspan dx="1.5">000</tspan></text>
<line x1="43.2" y1="200.4" x2="237.0" y2="200.4" stroke="#111" stroke-width="2.1"/>
<line x1="46.7" y1="200.4" x2="46.7" y2="203.9" stroke="#111" stroke-width="2"/>
<text x="46.7" y="216.8" font-family='"Liberation Serif", serif' font-size="11.5" font-weight="bold" text-anchor="middle" >0</text>
<line x1="84.6" y1="200.4" x2="84.6" y2="203.9" stroke="#111" stroke-width="2"/>
<text x="84.6" y="216.8" font-family='"Liberation Serif", serif' font-size="11.5" font-weight="bold" text-anchor="middle" >10</text>
<line x1="122.4" y1="200.4" x2="122.4" y2="203.9" stroke="#111" stroke-width="2"/>
<text x="122.4" y="216.8" font-family='"Liberation Serif", serif' font-size="11.5" font-weight="bold" text-anchor="middle" >20</text>
<line x1="160.3" y1="200.4" x2="160.3" y2="203.9" stroke="#111" stroke-width="2"/>
<text x="160.3" y="216.8" font-family='"Liberation Serif", serif' font-size="11.5" font-weight="bold" text-anchor="middle" >30</text>
<line x1="198.1" y1="200.4" x2="198.1" y2="203.9" stroke="#111" stroke-width="2"/>
<text x="198.1" y="216.8" font-family='"Liberation Serif", serif' font-size="11.5" font-weight="bold" text-anchor="middle" >40</text>
<line x1="236.0" y1="200.4" x2="236.0" y2="203.9" stroke="#111" stroke-width="2"/>
<text x="236.0" y="216.8" font-family='"Liberation Serif", serif' font-size="11.5" font-weight="bold" text-anchor="middle" >50</text>
<text x="6.1" y="124.8" font-family='"Liberation Serif", serif' font-size="11.6" font-weight="bold" text-anchor="middle" transform="rotate(-90 6.1 124.8)" dominant-baseline="central">mU/mL FVIII</text>
<text x="139.8" y="238.9" font-family='"Liberation Serif", serif' font-size="12.6" font-weight="bold" text-anchor="middle" >days after injection</text>
<text x="126.5" y="29.0" font-family='"Liberation Serif", serif' font-size="15.4" font-weight="bold" text-anchor="middle">5x10<tspan dy="-4.8" font-size="8.6">9</tspan><tspan dy="4.8" dx="1.8">IU</tspan></text>
<text x="0.3" y="20.0" font-family='"Liberation Sans", sans-serif' font-size="25.5" font-weight="bold">A</text>
<line x1="310.8" y1="50.0" x2="310.8" y2="204.3" stroke="#111" stroke-width="2.1"/>
<line x1="307.3" y1="200.8" x2="310.8" y2="200.8" stroke="#111" stroke-width="2"/>
<text x="303.1" y="203.3" font-family='"Liberation Serif", serif' font-size="11.2" font-weight="bold" text-anchor="end" >1</text>
<line x1="307.3" y1="163.4" x2="310.8" y2="163.4" stroke="#111" stroke-width="2"/>
<text x="303.1" y="165.9" font-family='"Liberation Serif", serif' font-size="11.2" font-weight="bold" text-anchor="end" >10</text>
<line x1="307.3" y1="125.9" x2="310.8" y2="125.9" stroke="#111" stroke-width="2"/>
<text x="303.1" y="128.4" font-family='"Liberation Serif", serif' font-size="11.2" font-weight="bold" text-anchor="end" >100</text>
<line x1="307.3" y1="88.5" x2="310.8" y2="88.5" stroke="#111" stroke-width="2"/>
<text x="303.1" y="91.0" font-family='"Liberation Serif", serif' font-size="11.2" font-weight="bold" text-anchor="end" >1000</text>
<line x1="307.3" y1="51.0" x2="310.8" y2="51.0" stroke="#111" stroke-width="2"/>
<text x="303.1" y="53.5" font-family='"Liberation Serif", serif' font-size="11.2" font-weight="bold" text-anchor="end" >10<tspan dx="0.6">000</tspan></text>
<line x1="307.3" y1="200.8" x2="509.5" y2="200.8" stroke="#111" stroke-width="2.1"/>
<rect x="485.2" y="197.1" width="6.2" height="7.4" fill="#fff"/>
<line x1="484.4" y1="205.3" x2="488.0" y2="196.3" stroke="#111" stroke-width="1.5"/>
<line x1="488.6" y1="205.3" x2="492.2" y2="196.3" stroke="#111" stroke-width="1.5"/>
<line x1="310.8" y1="200.8" x2="310.8" y2="204.3" stroke="#111" stroke-width="2"/>
<text x="310.8" y="218.3" font-family='"Liberation Serif", serif' font-size="11.5" font-weight="bold" text-anchor="middle" >0</text>
<line x1="343.7" y1="200.8" x2="343.7" y2="204.3" stroke="#111" stroke-width="2"/>
<text x="343.7" y="218.3" font-family='"Liberation Serif", serif' font-size="11.5" font-weight="bold" text-anchor="middle" >10</text>
<line x1="376.6" y1="200.8" x2="376.6" y2="204.3" stroke="#111" stroke-width="2"/>
<text x="376.6" y="218.3" font-family='"Liberation Serif", serif' font-size="11.5" font-weight="bold" text-anchor="middle" >20</text>
<line x1="409.5" y1="200.8" x2="409.5" y2="204.3" stroke="#111" stroke-width="2"/>
<text x="409.5" y="218.3" font-family='"Liberation Serif", serif' font-size="11.5" font-weight="bold" text-anchor="middle" >30</text>
<line x1="442.4" y1="200.8" x2="442.4" y2="204.3" stroke="#111" stroke-width="2"/>
<text x="442.4" y="218.3" font-family='"Liberation Serif", serif' font-size="11.5" font-weight="bold" text-anchor="middle" >40</text>
<line x1="475.3" y1="200.8" x2="475.3" y2="204.3" stroke="#111" stroke-width="2"/>
<text x="475.3" y="218.3" font-family='"Liberation Serif", serif' font-size="11.5" font-weight="bold" text-anchor="middle" >50</text>
<line x1="508.4" y1="200.8" x2="508.4" y2="204.3" stroke="#111" stroke-width="2"/>
<text x="507.9" y="218.3" font-family='"Liberation Serif", serif' font-size="11.5" font-weight="bold" text-anchor="middle" >120</text>
<text x="266.2" y="126.6" font-family='"Liberation Serif", serif' font-size="11.6" font-weight="bold" text-anchor="middle" transform="rotate(-90 266.2 126.6)" dominant-baseline="central">mU/mL FVIII</text>
<text x="410.0" y="234.6" font-family='"Liberation Serif", serif' font-size="12.6" font-weight="bold" text-anchor="middle" >days after injection</text>
<text x="399.0" y="29.0" font-family='"Liberation Serif", serif' font-size="15.4" font-weight="bold" text-anchor="middle">10<tspan dy="-4.8" font-size="8.6">8</tspan><tspan dy="4.8" dx="1.8">IU</tspan></text>
<text x="258.8" y="18.6" font-family='"Liberation Sans", sans-serif' font-size="25.5" font-weight="bold">B</text>
<line x1="46.8" y1="300.4" x2="46.8" y2="458.3" stroke="#111" stroke-width="2.1"/>
<line x1="43.3" y1="454.8" x2="46.8" y2="454.8" stroke="#111" stroke-width="2"/>
<text x="39.9" y="457.3" font-family='"Liberation Serif", serif' font-size="11.2" font-weight="bold" text-anchor="end" >1</text>
<line x1="43.3" y1="416.4" x2="46.8" y2="416.4" stroke="#111" stroke-width="2"/>
<text x="39.9" y="418.9" font-family='"Liberation Serif", serif' font-size="11.2" font-weight="bold" text-anchor="end" >10</text>
<line x1="43.3" y1="378.1" x2="46.8" y2="378.1" stroke="#111" stroke-width="2"/>
<text x="39.9" y="380.6" font-family='"Liberation Serif", serif' font-size="11.2" font-weight="bold" text-anchor="end" >100</text>
<line x1="43.3" y1="339.8" x2="46.8" y2="339.8" stroke="#111" stroke-width="2"/>
<text x="39.9" y="342.2" font-family='"Liberation Serif", serif' font-size="11.2" font-weight="bold" text-anchor="end" >1000</text>
<line x1="43.3" y1="301.4" x2="46.8" y2="301.4" stroke="#111" stroke-width="2"/>
<text x="39.9" y="303.9" font-family='"Liberation Serif", serif' font-size="11.2" font-weight="bold" text-anchor="end" >10000</text>
<line x1="43.3" y1="454.8" x2="247.0" y2="454.8" stroke="#111" stroke-width="2.1"/>
<line x1="46.8" y1="454.8" x2="46.8" y2="458.3" stroke="#111" stroke-width="2"/>
<text x="46.8" y="471.0" font-family='"Liberation Serif", serif' font-size="11.5" font-weight="bold" text-anchor="middle" >0</text>
<line x1="86.6" y1="454.8" x2="86.6" y2="458.3" stroke="#111" stroke-width="2"/>
<text x="86.6" y="471.0" font-family='"Liberation Serif", serif' font-size="11.5" font-weight="bold" text-anchor="middle" >10</text>
<line x1="126.4" y1="454.8" x2="126.4" y2="458.3" stroke="#111" stroke-width="2"/>
<text x="126.4" y="471.0" font-family='"Liberation Serif", serif' font-size="11.5" font-weight="bold" text-anchor="middle" >20</text>
<line x1="166.3" y1="454.8" x2="166.3" y2="458.3" stroke="#111" stroke-width="2"/>
<text x="166.3" y="471.0" font-family='"Liberation Serif", serif' font-size="11.5" font-weight="bold" text-anchor="middle" >30</text>
<line x1="206.1" y1="454.8" x2="206.1" y2="458.3" stroke="#111" stroke-width="2"/>
<text x="206.1" y="471.0" font-family='"Liberation Serif", serif' font-size="11.5" font-weight="bold" text-anchor="middle" >40</text>
<line x1="245.9" y1="454.8" x2="245.9" y2="458.3" stroke="#111" stroke-width="2"/>
<text x="245.9" y="471.0" font-family='"Liberation Serif", serif' font-size="11.5" font-weight="bold" text-anchor="middle" >50</text>
<text x="8.1" y="376.1" font-family='"Liberation Serif", serif' font-size="11.6" font-weight="bold" text-anchor="middle" transform="rotate(-90 8.1 376.1)" dominant-baseline="central">mU/mL FVIII</text>
<text x="145.5" y="487.3" font-family='"Liberation Serif", serif' font-size="12.6" font-weight="bold" text-anchor="middle" >days after injection</text>
<text x="134.5" y="282.0" font-family='"Liberation Serif", serif' font-size="15.4" font-weight="bold" text-anchor="middle">5x10<tspan dy="-4.8" font-size="8.6">7</tspan><tspan dy="4.8" dx="1.8">IU</tspan></text>
<text x="0.6" y="269.4" font-family='"Liberation Sans", sans-serif' font-size="25.5" font-weight="bold">C</text>
<line x1="310.3" y1="300.4" x2="310.3" y2="458.9" stroke="#111" stroke-width="2.1"/>
<line x1="306.8" y1="455.4" x2="310.3" y2="455.4" stroke="#111" stroke-width="2"/>
<text x="303.5" y="457.9" font-family='"Liberation Serif", serif' font-size="11.2" font-weight="bold" text-anchor="end" >1</text>
<line x1="306.8" y1="416.9" x2="310.3" y2="416.9" stroke="#111" stroke-width="2"/>
<text x="303.5" y="419.4" font-family='"Liberation Serif", serif' font-size="11.2" font-weight="bold" text-anchor="end" >10</text>
<line x1="306.8" y1="378.4" x2="310.3" y2="378.4" stroke="#111" stroke-width="2"/>
<text x="303.5" y="380.9" font-family='"Liberation Serif", serif' font-size="11.2" font-weight="bold" text-anchor="end" >100</text>
<line x1="306.8" y1="339.9" x2="310.3" y2="339.9" stroke="#111" stroke-width="2"/>
<text x="303.5" y="342.4" font-family='"Liberation Serif", serif' font-size="11.2" font-weight="bold" text-anchor="end" >1000</text>
<line x1="306.8" y1="301.4" x2="310.3" y2="301.4" stroke="#111" stroke-width="2"/>
<text x="303.5" y="303.9" font-family='"Liberation Serif", serif' font-size="11.2" font-weight="bold" text-anchor="end" >10<tspan dx="0.6">000</tspan></text>
<line x1="306.8" y1="455.4" x2="512.5" y2="455.4" stroke="#111" stroke-width="2.1"/>
<rect x="483.4" y="451.7" width="6.2" height="7.4" fill="#fff"/>
<line x1="482.6" y1="459.9" x2="486.2" y2="450.9" stroke="#111" stroke-width="1.5"/>
<line x1="486.8" y1="459.9" x2="490.4" y2="450.9" stroke="#111" stroke-width="1.5"/>
<line x1="310.3" y1="455.4" x2="310.3" y2="458.9" stroke="#111" stroke-width="2"/>
<text x="310.3" y="471.6" font-family='"Liberation Serif", serif' font-size="11.5" font-weight="bold" text-anchor="middle" >0</text>
<line x1="343.9" y1="455.4" x2="343.9" y2="458.9" stroke="#111" stroke-width="2"/>
<text x="343.9" y="471.6" font-family='"Liberation Serif", serif' font-size="11.5" font-weight="bold" text-anchor="middle" >10</text>
<line x1="377.5" y1="455.4" x2="377.5" y2="458.9" stroke="#111" stroke-width="2"/>
<text x="377.5" y="471.6" font-family='"Liberation Serif", serif' font-size="11.5" font-weight="bold" text-anchor="middle" >20</text>
<line x1="411.2" y1="455.4" x2="411.2" y2="458.9" stroke="#111" stroke-width="2"/>
<text x="411.2" y="471.6" font-family='"Liberation Serif", serif' font-size="11.5" font-weight="bold" text-anchor="middle" >30</text>
<line x1="444.8" y1="455.4" x2="444.8" y2="458.9" stroke="#111" stroke-width="2"/>
<text x="444.8" y="471.6" font-family='"Liberation Serif", serif' font-size="11.5" font-weight="bold" text-anchor="middle" >40</text>
<line x1="478.4" y1="455.4" x2="478.4" y2="458.9" stroke="#111" stroke-width="2"/>
<text x="478.4" y="471.6" font-family='"Liberation Serif", serif' font-size="11.5" font-weight="bold" text-anchor="middle" >50</text>
<line x1="511.5" y1="455.4" x2="511.5" y2="458.9" stroke="#111" stroke-width="2"/>
<text x="509.0" y="471.6" font-family='"Liberation Serif", serif' font-size="11.5" font-weight="bold" text-anchor="middle" >120</text>
<text x="270.8" y="375.1" font-family='"Liberation Serif", serif' font-size="11.6" font-weight="bold" text-anchor="middle" transform="rotate(-90 270.8 375.1)" dominant-baseline="central">mU/mL FVIII</text>
<text x="412.1" y="486.8" font-family='"Liberation Serif", serif' font-size="12.6" font-weight="bold" text-anchor="middle" >days after injection</text>
<text x="410.5" y="286.7" font-family='"Liberation Serif", serif' font-size="15.4" font-weight="bold" text-anchor="middle">10<tspan dy="-4.8" font-size="8.6">7</tspan><tspan dy="4.8" dx="1.8">IU</tspan></text>
<text x="269.7" y="269.2" font-family='"Liberation Sans", sans-serif' font-size="25.5" font-weight="bold">D</text>
<line x1="47.8" y1="549.0" x2="47.8" y2="705.5" stroke="#111" stroke-width="2.1"/>
<line x1="44.3" y1="702.0" x2="47.8" y2="702.0" stroke="#111" stroke-width="2"/>
<text x="41.1" y="704.5" font-family='"Liberation Serif", serif' font-size="11.2" font-weight="bold" text-anchor="end" >1</text>
<line x1="44.3" y1="664.0" x2="47.8" y2="664.0" stroke="#111" stroke-width="2"/>
<text x="41.1" y="666.5" font-family='"Liberation Serif", serif' font-size="11.2" font-weight="bold" text-anchor="end" >10</text>
<line x1="44.3" y1="626.0" x2="47.8" y2="626.0" stroke="#111" stroke-width="2"/>
<text x="41.1" y="628.5" font-family='"Liberation Serif", serif' font-size="11.2" font-weight="bold" text-anchor="end" >100</text>
<line x1="44.3" y1="588.0" x2="47.8" y2="588.0" stroke="#111" stroke-width="2"/>
<text x="41.1" y="590.5" font-family='"Liberation Serif", serif' font-size="11.2" font-weight="bold" text-anchor="end" >1000</text>
<line x1="44.3" y1="550.0" x2="47.8" y2="550.0" stroke="#111" stroke-width="2"/>
<text x="41.1" y="552.5" font-family='"Liberation Serif", serif' font-size="11.2" font-weight="bold" text-anchor="end" >10000</text>
<line x1="44.3" y1="702.0" x2="248.3" y2="702.0" stroke="#111" stroke-width="2.1"/>
<rect x="229.7" y="698.3" width="6.2" height="7.4" fill="#fff"/>
<line x1="228.9" y1="706.5" x2="232.5" y2="697.5" stroke="#111" stroke-width="1.5"/>
<line x1="233.1" y1="706.5" x2="236.7" y2="697.5" stroke="#111" stroke-width="1.5"/>
<line x1="47.8" y1="702.0" x2="47.8" y2="705.5" stroke="#111" stroke-width="2"/>
<text x="47.8" y="718.6" font-family='"Liberation Serif", serif' font-size="11.5" font-weight="bold" text-anchor="middle" >0</text>
<line x1="81.1" y1="702.0" x2="81.1" y2="705.5" stroke="#111" stroke-width="2"/>
<text x="81.1" y="718.6" font-family='"Liberation Serif", serif' font-size="11.5" font-weight="bold" text-anchor="middle" >10</text>
<line x1="114.3" y1="702.0" x2="114.3" y2="705.5" stroke="#111" stroke-width="2"/>
<text x="114.3" y="718.6" font-family='"Liberation Serif", serif' font-size="11.5" font-weight="bold" text-anchor="middle" >20</text>
<line x1="147.6" y1="702.0" x2="147.6" y2="705.5" stroke="#111" stroke-width="2"/>
<text x="147.6" y="718.6" font-family='"Liberation Serif", serif' font-size="11.5" font-weight="bold" text-anchor="middle" >30</text>
<line x1="180.8" y1="702.0" x2="180.8" y2="705.5" stroke="#111" stroke-width="2"/>
<text x="180.8" y="718.6" font-family='"Liberation Serif", serif' font-size="11.5" font-weight="bold" text-anchor="middle" >40</text>
<line x1="214.1" y1="702.0" x2="214.1" y2="705.5" stroke="#111" stroke-width="2"/>
<text x="214.1" y="718.6" font-family='"Liberation Serif", serif' font-size="11.5" font-weight="bold" text-anchor="middle" >50</text>
<line x1="247.3" y1="702.0" x2="247.3" y2="705.5" stroke="#111" stroke-width="2"/>
<text x="245.8" y="718.6" font-family='"Liberation Serif", serif' font-size="11.5" font-weight="bold" text-anchor="middle" >120</text>
<text x="7.0" y="622.0" font-family='"Liberation Serif", serif' font-size="11.6" font-weight="bold" text-anchor="middle" transform="rotate(-90 7.0 622.0)" dominant-baseline="central">mU/mL FVIII</text>
<text x="149.6" y="734.6" font-family='"Liberation Serif", serif' font-size="12.6" font-weight="bold" text-anchor="middle" >days after injection</text>
<text x="140.3" y="536.7" font-family='"Liberation Serif", serif' font-size="15.4" font-weight="bold" text-anchor="middle">5x10<tspan dy="-4.8" font-size="8.6">6</tspan><tspan dy="4.8" dx="1.8">IU</tspan></text>
<text x="-0.6" y="522.2" font-family='"Liberation Sans", sans-serif' font-size="25.5" font-weight="bold">E</text>
</svg>
</body></html>
